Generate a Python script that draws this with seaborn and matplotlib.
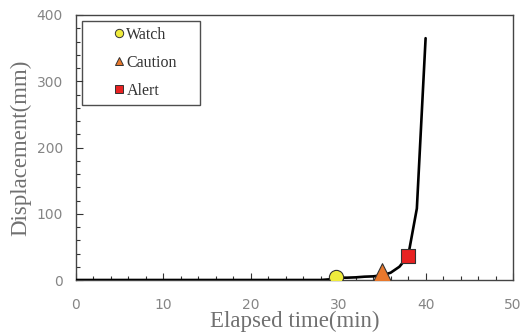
import matplotlib
matplotlib.use("Agg")
import matplotlib.pyplot as plt
import seaborn as sns
import pandas as pd
from matplotlib.lines import Line2D
from matplotlib.ticker import MultipleLocator

# data
time_min = [0, 5, 10, 15, 20, 25, 28, 29, 30, 31, 32, 33, 34, 35, 36, 37, 38, 39, 40]
disp_mm = [0, 0, 0, 0, 0, 0, 0, 1, 3.5, 3.5, 4, 5, 5.5, 7, 11, 20, 36, 108, 365]

level_names = ["Watch", "Caution", "Alert"]
level_time = [29.8, 35.0, 38.0]
level_disp = [5, 7, 36]
level_colors = ["#efeb3c", "#e8782c", "#e82222"]
level_markers = ["o", "^", "s"]
level_sizes = [105, 290, 105]

sns.set_style("white")
plt.rcParams["font.family"] = ["DejaVu Sans"]

fig = plt.figure(figsize=(5.32, 3.34), dpi=100)
ax = fig.add_axes([76 / 532, 1 - 280 / 334, 437 / 532, 265 / 334])

df = pd.DataFrame({"t": time_min, "d": disp_mm})
sns.lineplot(data=df, x="t", y="d", ax=ax, color="black", lw=1.9, zorder=3)

for name, t, d, c, m, s in zip(level_names, level_time, level_disp,
                                level_colors, level_markers, level_sizes):
    sns.scatterplot(x=[t], y=[d], ax=ax, color=c, marker=m, s=s,
                    edgecolor="#333333", linewidth=0.8, zorder=4, legend=False)

ax.set_xlim(0, 50)
ax.set_ylim(0, 400)
ax.xaxis.set_major_locator(MultipleLocator(10))
ax.xaxis.set_minor_locator(MultipleLocator(2))
ax.yaxis.set_major_locator(MultipleLocator(100))
ax.yaxis.set_minor_locator(MultipleLocator(20))
ax.tick_params(axis="both", which="both", direction="in", colors="#333333",
               labelcolor="#858585", labelsize=10, bottom=True, left=True,
               top=False, right=False)
ax.tick_params(axis="both", which="major", length=5, width=0.8)
ax.tick_params(axis="both", which="minor", length=3, width=0.8)
ax.tick_params(axis="x", pad=13)
ax.tick_params(axis="y", pad=9.5)
for sp in ax.spines.values():
    sp.set_color("#444444")
    sp.set_linewidth(1.0)

ax.set_xlabel("Elapsed time(min)", family="Liberation Serif", fontsize=16.5,
              color="#707070", labelpad=-1)
ax.set_ylabel("Displacement(mm)", family="Liberation Serif", fontsize=16.5,
              color="#707070", labelpad=4)

handles = [Line2D([0], [0], ls="none", marker=m, markersize=6, markerfacecolor=c,
                  markeredgecolor="#333333", markeredgewidth=0.7)
           for m, c in zip(level_markers, level_colors)]
leg = ax.legend(handles, level_names, loc="upper left",
                bbox_to_anchor=(6 / 437, 1 - 6 / 265, 118 / 437, 0.0),
                mode="expand", frameon=True, fancybox=False,
                prop={"family": "Liberation Serif", "size": 11.5},
                handlelength=3.9, handletextpad=-1.5, labelspacing=0.74,
                borderpad=0.38, borderaxespad=0)
leg.get_frame().set_edgecolor("#222222")
leg.get_frame().set_linewidth(1.0)
for t in leg.get_texts():
    t.set_color("#333333")

fig.savefig("out.png", dpi=100)
